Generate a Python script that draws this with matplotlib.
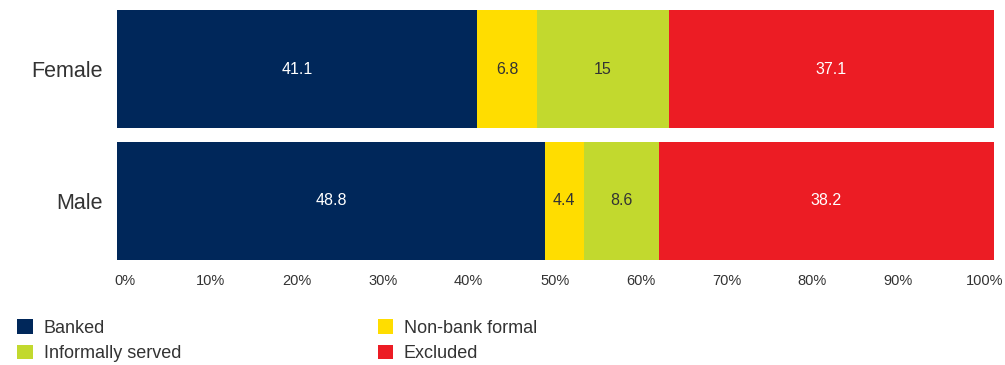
import matplotlib
matplotlib.use("Agg")
import matplotlib.pyplot as plt
from matplotlib import font_manager
from matplotlib.patches import Patch

# Share of adults by financial-access status, per gender (percent)
groups = ["Male", "Female"]
segments = ["Banked", "Non-bank formal", "Informally served", "Excluded"]
banked = [48.8, 41.1]
nonbank_formal = [4.4, 6.8]
informally_served = [8.6, 15.0]
excluded = [38.2, 37.1]
value_labels = [["48.8", "41.1"], ["4.4", "6.8"], ["8.6", "15"], ["38.2", "37.1"]]
tick_labels = ["0%", "10%", "20%", "30%", "40%", "50%", "60%", "70%", "80%", "90%", "100%"]

seg_colors = ["#00275A", "#FFDD00", "#C2D92E", "#EC1C24"]
text_colors = ["white", "#333333", "#333333", "white"]

names = {f.name for f in font_manager.fontManager.ttflist}
family = "Liberation Sans Narrow" if "Liberation Sans Narrow" in names else "Liberation Sans"
plt.rcParams["font.family"] = [family, "DejaVu Sans"]

fig = plt.figure(figsize=(10.05, 3.65), dpi=100)
ax = fig.add_axes([117 / 1005, 105 / 365, 877 / 1005, 250 / 365])

series = [banked, nonbank_formal, informally_served, excluded]
ypos = list(range(len(groups)))
left = [0.0] * len(groups)
for vals, col, tcol, labs in zip(series, seg_colors, text_colors, value_labels):
    bars = ax.barh(ypos, vals, left=left, height=0.894, color=col, edgecolor="none")
    for b, lab in zip(bars, labs):
        ax.text(b.get_x() + b.get_width() / 2, b.get_y() + b.get_height() / 2, lab,
                ha="center", va="center", color=tcol, fontsize=11.5)
    left = [l + v for l, v in zip(left, vals)]

ax.set_xlim(0, 100)
ax.set_ylim(-0.447, 1.447)
ax.set_yticks(ypos)
ax.set_yticklabels(groups, fontsize=15.5, color="#333333")
ticks = [0.9 + 9.8 * i for i in range(len(tick_labels))]
ax.set_xticks(ticks)
ax.set_xticklabels(tick_labels, fontsize=10.5, color="#333333")
ax.tick_params(axis="both", length=0)
ax.tick_params(axis="x", pad=10)
ax.tick_params(axis="y", pad=10)
for s in ax.spines.values():
    s.set_visible(False)

handles = [Patch(facecolor=c, edgecolor="none") for c in seg_colors]
order = [0, 2, 1, 3]
fig.legend([handles[i] for i in order], [segments[i] for i in order],
           loc="upper left", bbox_to_anchor=(12 / 1005, 1 - 314 / 365), ncol=2,
           frameon=False, fontsize=13, handlelength=0.85, handleheight=0.85,
           handletextpad=0.6, columnspacing=10.9, labelspacing=0.45,
           labelcolor="#333333", borderaxespad=0, borderpad=0.3)

fig.savefig("out.png", dpi=100)
